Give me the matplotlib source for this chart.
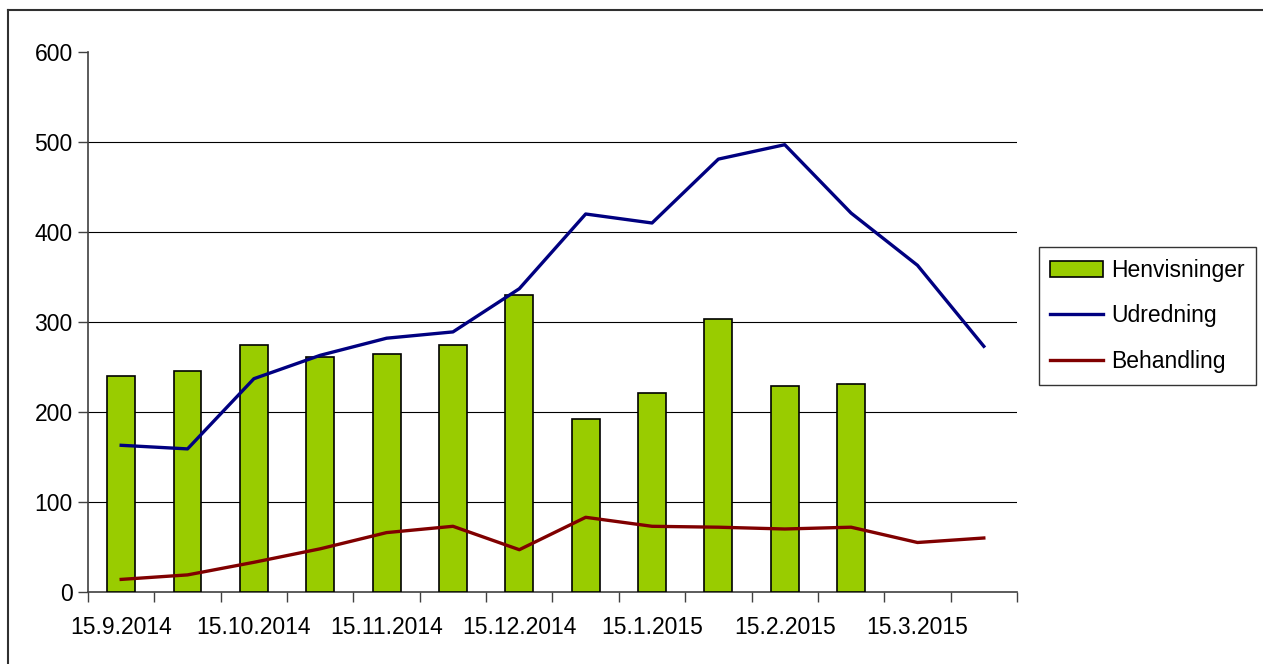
import numpy as np
import matplotlib
matplotlib.use("Agg")
import matplotlib.pyplot as plt
from matplotlib.lines import Line2D

plt.rcParams['font.family'] = ['Liberation Sans', 'DejaVu Sans']

dates = ["15.9.2014", "", "15.10.2014", "", "15.11.2014", "", "15.12.2014", "",
         "15.1.2015", "", "15.2.2015", "", "15.3.2015", ""]
henvisninger = [240, 246, 275, 261, 265, 275, 330, 192, 221, 303, 229, 231]
udredning = [163, 159, 237, 263, 282, 289, 337, 420, 410, 481, 497, 421, 363, 273]
behandling = [14, 19, 33, 48, 66, 73, 47, 83, 73, 72, 70, 72, 55, 60]

fig = plt.figure(figsize=(12.63, 6.64), dpi=100)
ax = fig.add_axes([88/1263, 72/664, 929/1263, 540/664])

x = np.arange(len(dates))
b = ax.bar(x[:len(henvisninger)], henvisninger, width=0.42, color="#99CC00",
           edgecolor="black", linewidth=1.2, zorder=3)
l1, = ax.plot(x, udredning, color="#000080", lw=2.4, zorder=4)
l2, = ax.plot(x, behandling, color="#800000", lw=2.4, zorder=4)

ax.set_xlim(-0.5, len(dates) - 0.5)
ax.set_ylim(0, 600)
ax.set_yticks(range(0, 601, 100))
for v in range(100, 501, 100):
    ax.axhline(v, color="black", lw=0.8, zorder=1)

ax.set_xticks(np.arange(-0.5, len(dates), 1.0))
ax.set_xticklabels([])
ax.set_xticks(x, minor=True)
ax.set_xticklabels(dates, minor=True)
ax.tick_params(axis="x", which="major", length=7, width=1, color="#404040", direction="out")
ax.tick_params(axis="x", which="minor", length=0, pad=17, labelsize=16.5)
ax.tick_params(axis="y", length=7, width=1, color="#404040", pad=4, labelsize=16.5)

for s in ["top", "right"]:
    ax.spines[s].set_visible(False)
for s in ["left", "bottom"]:
    ax.spines[s].set_color("#404040")
    ax.spines[s].set_linewidth(1.2)

leg = ax.legend([b, l1, l2], ["Henvisninger", "Udredning", "Behandling"],
                loc="center left", bbox_to_anchor=(1039/1263, 1 - 316/664),
                bbox_transform=fig.transFigure, fontsize=16.5, frameon=True,
                fancybox=False, edgecolor="black", handlelength=2.3,
                handletextpad=0.35, labelspacing=1.0, borderpad=0.5,
                borderaxespad=0)
leg.get_frame().set_linewidth(1)

# outer chart frame
fig.add_artist(Line2D([8/1263, 1], [1 - 10/664, 1 - 10/664], transform=fig.transFigure,
                      color="#303030", lw=1.5))
fig.add_artist(Line2D([8/1263, 8/1263], [0, 1 - 10/664], transform=fig.transFigure,
                      color="#303030", lw=1.5))

fig.savefig("out.png", dpi=100)
